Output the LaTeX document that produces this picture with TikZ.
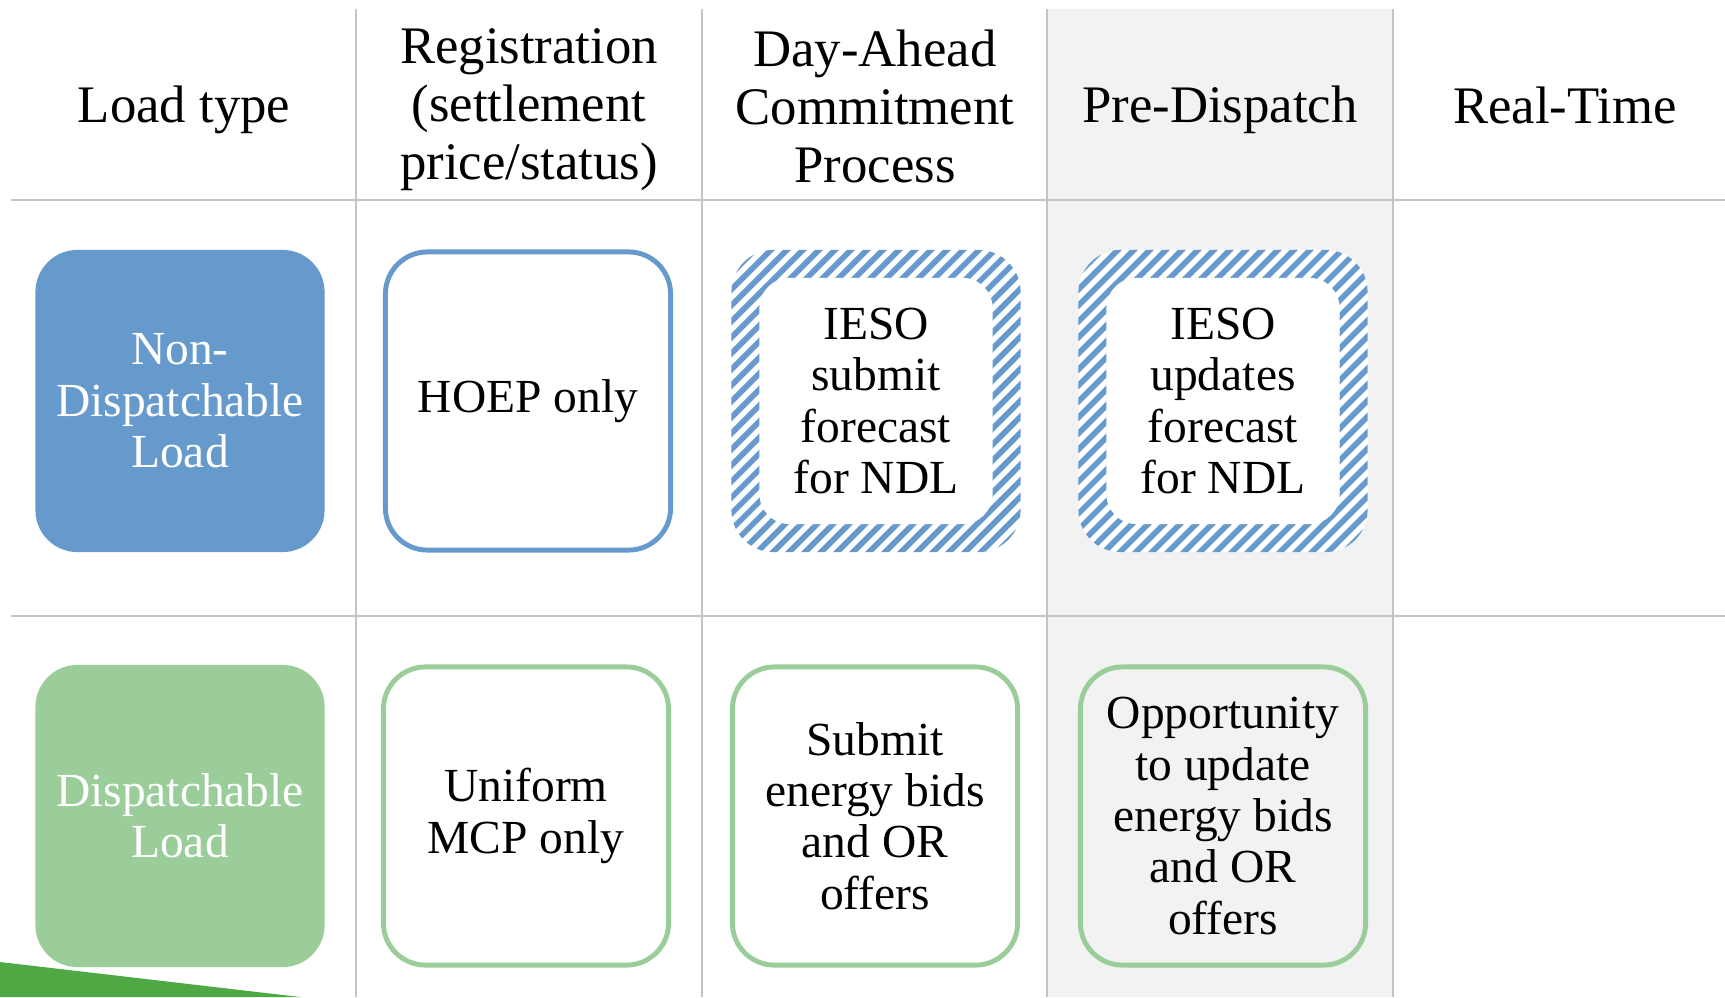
\documentclass[tikz,border=0pt]{standalone}
\usepackage{fontspec}
\setmainfont{Liberation Serif}
\usetikzlibrary{positioning}
\usepackage{xcolor}

\definecolor{ndlblue}{HTML}{6699CC}
\definecolor{dlgreen}{HTML}{9ACD99}
\definecolor{gridgrey}{HTML}{C4C4C4}
\definecolor{pdgrey}{HTML}{F2F2F2}
\definecolor{wedgegreen}{HTML}{4EA844}

\tikzset{
	gridline/.style={gridgrey, line width=0.6pt},
	header/.style={align=center, font=\fontsize{15}{16.5}\selectfont},
	cell/.style={align=center, rounded corners=0.42cm, minimum width=2.85cm, minimum height=2.98cm, inner sep=0pt, font=\fontsize{13.5}{14.6}\selectfont},
	solidcell/.style={cell, fill=#1, text=white, minimum width=2.89cm, minimum height=3.02cm},
	linecell/.style={cell, draw=#1, line width=1.4pt, fill=white},
	hatchcell/.style={cell, minimum width=2.89cm, minimum height=3.02cm,
		path picture={
			\fill[white] (path picture bounding box.south west) rectangle (path picture bounding box.north east);
			\foreach \k in {-20,...,20}
				\draw[ndlblue, line width=1.6pt] ([xshift=\k*0.16cm-2cm, yshift=-2cm]path picture bounding box.center) -- ++(4cm,4cm);
		}},
	hatchinner/.style={cell, fill=white, rounded corners=0.3cm, minimum width=2.33cm, minimum height=2.46cm}
}

\begin{document}
\begin{tikzpicture}[x=0.01cm, y=-0.01cm]

	\useasboundingbox (0,0) rectangle (1725,997);

	\fill [pdgrey] (1047,9) rectangle (1393,997);

	\fill [wedgegreen] (0,962) -- (300,997) -- (0,997) -- cycle;

	\draw [gridline] (11,200) -- (1725,200);
	\draw [gridline] (11,616) -- (1725,616);

	\foreach \xcol in {356,702,1047,1393}
		\draw [gridline] (\xcol,9) -- (\xcol,997);

	\node [header] (hload) at (184,110) {Load type};
	\node [header] (hreg) at (529,110) {Registration\\(settlement\\price/status)};
	\node [header] (hdac) at (875,106) {Day-Ahead\\Commitment\\Process};
	\node [header] (hpd) at (1220,110) {Pre-Dispatch};
	\node [header] (hrt) at (1565,105) {Real-Time};

	\node [solidcell=ndlblue] (ndl) at (180,401) {Non-\\Dispatchable\\Load};
	\node [linecell=ndlblue] (ndlreg) at (528,401) {HOEP only};
	\node [hatchcell] (ndldac) at (876,401) {};
	\node [hatchinner] (ndldactext) at (ndldac) {IESO\\submit\\forecast\\for NDL};
	\node [hatchcell] (ndlpd) at (1223,401) {};
	\node [hatchinner] (ndlpdtext) at (ndlpd) {IESO\\updates\\forecast\\for NDL};

	\node [solidcell=dlgreen] (dl) at (180,816) {Dispatchable\\Load};
	\node [linecell=dlgreen] (dlreg) at (526,816) {Uniform\\MCP only};
	\node [linecell=dlgreen] (dldac) at (875,816) {Submit\\energy bids\\and OR\\offers};
	\node [linecell=dlgreen, fill=pdgrey] (dlpd) at (1223,816) {Opportunity\\to update\\energy bids\\and OR\\offers};

\end{tikzpicture}
\end{document}
